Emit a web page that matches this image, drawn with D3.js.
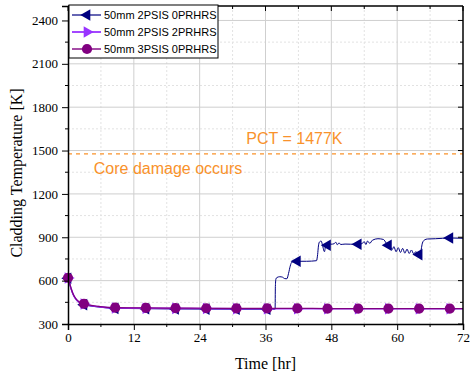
<!DOCTYPE html>
<html>
<head>
<meta charset="utf-8">
<script src="https://cdn.jsdelivr.net/npm/d3@7"></script>
<style>
  html, body { margin: 0; padding: 0; background: #fff; }
  svg { display: block; }
</style>
</head>
<body>
<svg id="chart" width="473" height="378"></svg>
<script>
// ---- data ----
const seriesNames = ["50mm 2PSIS 0PRHRS", "50mm 2PSIS 2PRHRS", "50mm 3PSIS 0PRHRS"];

const time1 = [0, 0.3, 0.6, 1, 1.5, 2, 2.9, 4, 5.5, 8.6, 14.2, 19.6, 25.2, 30.7, 36.3, 37.6, 37.75, 37.8, 37.9, 38.1,
  38.6, 39.1, 39.5, 39.9, 40.2, 40.5, 40.8, 41.8, 43.5, 45.3, 45.5, 45.65, 45.85, 46.15, 46.45, 46.75, 47.0, 47.3, 47.6, 47.9,
  48.5, 48.8, 49.1, 49.4, 49.7, 50.5, 51.5, 52.9, 53.6, 54.0, 54.3, 54.6, 55.0, 55.5, 56.5, 57.5, 58.0, 58.4, 58.8, 59.1,
  59.4, 59.8, 60.2, 60.6, 61.0, 61.4, 61.8, 62.2, 62.6, 63.0, 63.4, 64.0, 64.3, 64.6, 65.0, 65.5, 67.0, 69.6, 72];
const temp1 = [616, 578, 538, 498, 468, 450, 434, 425, 418, 408, 406, 404, 403, 402, 402, 402, 402, 560, 612, 622,
  627, 624, 614, 613, 650, 700, 728, 734, 734, 738, 780, 840, 868, 874, 835, 800, 850, 845, 860, 852,
  855, 866, 848, 862, 850, 853, 852, 852, 856, 870, 850, 874, 858, 880, 890, 885, 860, 845, 830, 815,
  835, 800, 828, 795, 823, 790, 818, 788, 812, 786, 800, 780, 800, 860, 882, 888, 890, 895, 893];

const time2 = [0, 0.3, 0.6, 1, 1.5, 2, 2.9, 4, 5.5, 8.6, 14.2, 19.6, 25.2, 30.7, 36.3, 41.8, 47.3, 52.9, 58.4, 64.0, 69.6, 72];
const temp2 = [618, 580, 540, 500, 470, 452, 438, 428, 420, 411, 409, 408, 407, 406, 406, 406, 405, 405, 405, 405, 405, 405];

const time3 = [0, 0.3, 0.6, 1, 1.5, 2, 2.9, 4, 5.5, 8.6, 14.2, 19.6, 25.2, 30.7, 36.3, 41.8, 47.3, 52.9, 58.4, 64.0, 69.6, 72];
const temp3 = [620, 582, 542, 502, 472, 454, 440, 430, 422, 413, 411, 410, 409, 408, 408, 408, 407, 407, 407, 407, 407, 407];

// sample times that carry a symbol
const markerTimes = [0, 2.9, 8.6, 14.2, 19.6, 25.2, 30.7, 36.3, 41.8, 47.3, 52.9, 58.4, 64.0, 69.6];

const xTicks = [0, 12, 24, 36, 48, 60, 72];
const yTicks = [300, 600, 900, 1200, 1500, 1800, 2100, 2400];
const pctValue = 1477;
const pctLabel = "PCT = 1477K";
const damageLabel = "Core damage occurs";

// ---- layout ----
const svg = d3.select("#chart");
const m = { left: 68, right: 10, top: 6, bottom: 54 };
const W = 473, H = 378;
const x = d3.scaleLinear().domain([0, 72]).range([m.left, W - m.right]);
const y = d3.scaleLinear().domain([300, 2500]).range([H - m.bottom, m.top]);

const xMinor = d3.range(6, 72, 12);
const yMinor = d3.range(450, 2500, 300);

const serif = "'Liberation Serif', 'Times New Roman', serif";
const sans = "'Liberation Sans', Arial, sans-serif";

// grid
const grid = svg.append("g");
grid.selectAll(".gxm").data(xMinor).join("line")
  .attr("x1", d => x(d)).attr("x2", d => x(d)).attr("y1", y(300)).attr("y2", y(2500))
  .attr("stroke", "#e2e2e2").attr("stroke-width", 1).attr("stroke-dasharray", "2,2");
grid.selectAll(".gym").data(yMinor).join("line")
  .attr("x1", x(0)).attr("x2", x(72)).attr("y1", d => y(d)).attr("y2", d => y(d))
  .attr("stroke", "#e2e2e2").attr("stroke-width", 1).attr("stroke-dasharray", "2,2");
grid.selectAll(".gx").data(xTicks.slice(1, -1)).join("line")
  .attr("x1", d => x(d)).attr("x2", d => x(d)).attr("y1", y(300)).attr("y2", y(2500))
  .attr("stroke", "#cfcfcf").attr("stroke-width", 1);
grid.selectAll(".gy").data(yTicks.slice(1)).join("line")
  .attr("x1", x(0)).attr("x2", x(72)).attr("y1", d => y(d)).attr("y2", d => y(d))
  .attr("stroke", "#cfcfcf").attr("stroke-width", 1);

// PCT reference line and labels
const orange = "#f9922b";
svg.append("line")
  .attr("x1", x(0)).attr("x2", x(72)).attr("y1", y(pctValue)).attr("y2", y(pctValue))
  .attr("stroke", orange).attr("stroke-width", 1.4).attr("stroke-dasharray", "4,4");
svg.append("text").attr("x", x(32.5)).attr("y", y(pctValue) - 10)
  .style("font-family", sans).style("font-size", "16px")
  .attr("fill", orange).text(pctLabel);
svg.append("text").attr("x", x(4.7)).attr("y", y(pctValue) + 20)
  .style("font-family", sans).style("font-size", "16px")
  .attr("fill", orange).text(damageLabel);

// series
const series = [
  { name: seriesNames[0], t: time1, v: temp1, color: "#000080", width: 1, symbol: "left" },
  { name: seriesNames[1], t: time2, v: temp2, color: "#9933ff", width: 1.6, symbol: "right" },
  { name: seriesNames[2], t: time3, v: temp3, color: "#800080", width: 1.2, symbol: "circle" }
];

const line = d3.line().x(d => x(d[0])).y(d => y(d[1])).curve(d3.curveMonotoneX);
function symbolPath(kind) {
  if (kind === "circle") return d3.symbol().type(d3.symbolCircle).size(82)();
  return d3.symbol().type(d3.symbolTriangle).size(58)();
}
function symbolRotate(kind) {
  return kind === "left" ? -90 : kind === "right" ? 90 : 0;
}

series.forEach(s => {
  const pts = s.t.map((t, i) => [t, s.v[i]]);
  svg.append("path").datum(pts).attr("d", line)
    .attr("fill", "none").attr("stroke", s.color).attr("stroke-width", s.width);
  const mk = pts.filter(p => markerTimes.includes(p[0]));
  svg.append("g").selectAll("path").data(mk).join("path")
    .attr("d", symbolPath(s.symbol))
    .attr("transform", d => `translate(${x(d[0])},${y(d[1])}) rotate(${symbolRotate(s.symbol)})`)
    .attr("fill", s.color);
});

// axes frame
const xAxis = svg.append("g").attr("transform", `translate(0,${y(300)})`)
  .call(d3.axisBottom(x).tickValues(xTicks).tickFormat(d3.format("d")).tickSize(6).tickPadding(3));
const yAxis = svg.append("g").attr("transform", `translate(${x(0)},0)`)
  .call(d3.axisLeft(y).tickValues(yTicks).tickFormat(d3.format("d")).tickSize(6).tickPadding(4));
[xAxis, yAxis].forEach(a => {
  a.select(".domain").attr("stroke", "#000").attr("stroke-width", 1.5);
  a.selectAll(".tick line").attr("stroke", "#000").attr("stroke-width", 1);
  a.selectAll(".tick text").style("font-family", serif).style("font-size", "13px").attr("fill", "#000");
});
// minor ticks bottom/left (outward), top/right (inward)
svg.append("g").selectAll("line").data(xMinor).join("line")
  .attr("x1", d => x(d)).attr("x2", d => x(d)).attr("y1", y(300)).attr("y2", y(300) + 3)
  .attr("stroke", "#000");
svg.append("g").selectAll("line").data(yMinor).join("line")
  .attr("x1", x(0) - 3).attr("x2", x(0)).attr("y1", d => y(d)).attr("y2", d => y(d))
  .attr("stroke", "#000");
svg.append("g").selectAll("line").data(xTicks).join("line")
  .attr("x1", d => x(d)).attr("x2", d => x(d)).attr("y1", y(2500)).attr("y2", y(2500) + 5)
  .attr("stroke", "#000");
svg.append("g").selectAll("line").data(xMinor).join("line")
  .attr("x1", d => x(d)).attr("x2", d => x(d)).attr("y1", y(2500)).attr("y2", y(2500) + 3)
  .attr("stroke", "#000");
svg.append("g").selectAll("line").data(yTicks).join("line")
  .attr("x1", x(72) - 5).attr("x2", x(72)).attr("y1", d => y(d)).attr("y2", d => y(d))
  .attr("stroke", "#000");
svg.append("g").selectAll("line").data(yMinor).join("line")
  .attr("x1", x(72) - 3).attr("x2", x(72)).attr("y1", d => y(d)).attr("y2", d => y(d))
  .attr("stroke", "#000");
svg.append("line").attr("x1", x(0)).attr("x2", x(72)).attr("y1", y(2500)).attr("y2", y(2500))
  .attr("stroke", "#000").attr("stroke-width", 1.5);
svg.append("line").attr("x1", x(72)).attr("x2", x(72)).attr("y1", y(2500)).attr("y2", y(300))
  .attr("stroke", "#000").attr("stroke-width", 1.5);

// axis titles
svg.append("text").attr("x", (x(0) + x(72)) / 2).attr("y", 369)
  .attr("text-anchor", "middle").style("font-family", serif).style("font-size", "16px")
  .text("Time [hr]");
svg.append("text").attr("transform", `translate(22,${(y(300) + y(2500)) / 2 + 8}) rotate(-90)`)
  .attr("text-anchor", "middle").style("font-family", serif).style("font-size", "16px")
  .text("Cladding Temperature [K]");

// legend
const lg = svg.append("g").attr("transform", "translate(69,5)");
lg.append("rect").attr("width", 149).attr("height", 53)
  .attr("fill", "#fff").attr("stroke", "#000").attr("stroke-width", 1);
series.forEach((s, i) => {
  const cy = 10 + i * 17;
  lg.append("line").attr("x1", 3).attr("x2", 32).attr("y1", cy).attr("y2", cy)
    .attr("stroke", s.color).attr("stroke-width", s.width + 0.2);
  lg.append("path").attr("d", symbolPath(s.symbol))
    .attr("transform", `translate(18,${cy}) rotate(${symbolRotate(s.symbol)})`)
    .attr("fill", s.color);
  lg.append("text").attr("x", 35).attr("y", cy + 4)
    .style("font-family", sans).style("font-size", "11px")
    .text(s.name);
});
</script>
</body>
</html>
